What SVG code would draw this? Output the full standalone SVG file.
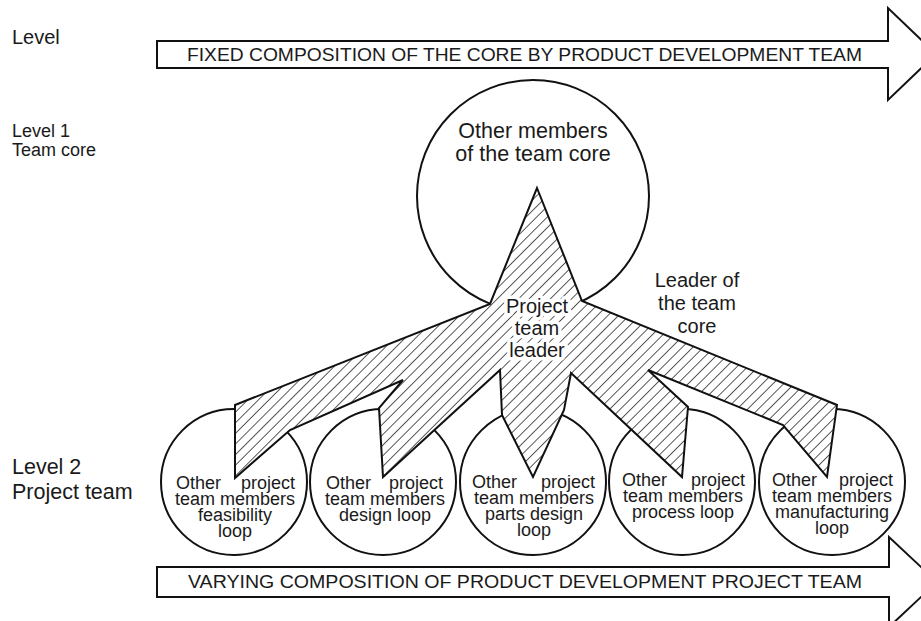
<svg xmlns="http://www.w3.org/2000/svg" width="921" height="621" viewBox="0 0 921 621">
  <style>
    .outline { fill: #fff; stroke: #111; stroke-width: 2; stroke-linejoin: miter; }
    .hatched { fill: url(#hatch); stroke: #111; stroke-width: 2; stroke-linejoin: miter; }
    .t { font-family: "Liberation Sans", Arial, Helvetica, sans-serif; fill: #1a1a1a; }
    .lbl { font-size: 20px; }
    .lbl2 { font-size: 21.5px; }
    .lbl-s { font-size: 18px; }
    .arrow-text { font-size: 17.5px; }
    .core { font-size: 21.5px; text-anchor: middle; }
    .lead { font-size: 20px; text-anchor: middle; }
    .loop { font-size: 18px; text-anchor: middle; }
    .halo { paint-order: stroke; stroke: #fff; stroke-width: 7px; stroke-linejoin: round; }
  </style>
  <defs>
    <pattern id="hatch" patternUnits="userSpaceOnUse" width="7.5" height="10" patternTransform="rotate(45)">
      <rect width="7.5" height="10" fill="#fff"/>
      <line x1="0" y1="0" x2="0" y2="10" stroke="#111" stroke-width="1.4"/>
    </pattern>
  </defs>
  <rect width="921" height="621" fill="#fff"/>

  <!-- level labels -->
  <g id="level-labels">
    <text class="t lbl" x="12" y="44">Level</text>
    <text class="t lbl-s" x="12" y="137">Level 1</text>
    <text class="t lbl-s" x="12" y="156">Team core</text>
    <text class="t lbl2" x="12" y="474">Level 2</text>
    <text class="t lbl2" x="12" y="499">Project team</text>
  </g>

  <!-- timeline arrows -->
  <g id="arrow-fixed">
    <polygon class="outline" points="157,41 888,41 888,8 936,54 888,100 888,68 157,68"/>
    <text class="t arrow-text" x="187" y="61" textLength="675" lengthAdjust="spacingAndGlyphs">FIXED COMPOSITION OF THE CORE BY PRODUCT DEVELOPMENT TEAM</text>
  </g>
  <g id="arrow-varying">
    <polygon class="outline" points="157,567 889,567 889,537 937,582 889,627 889,597 157,597"/>
    <text class="t arrow-text" x="188" y="588" textLength="674" lengthAdjust="spacingAndGlyphs">VARYING COMPOSITION OF PRODUCT DEVELOPMENT PROJECT TEAM</text>
  </g>

  <!-- team core -->
  <g id="team-core">
    <circle class="outline" cx="533" cy="196" r="116"/>
    <text class="t core" x="533" y="138">Other members</text>
    <text class="t core" x="533" y="161">of the team core</text>
  </g>

  <!-- project team loops -->
  <g id="loop-feasibility">
    <circle class="outline" cx="234" cy="482" r="73"/>
  </g>
  <g id="loop-design">
    <circle class="outline" cx="383" cy="482" r="73"/>
  </g>
  <g id="loop-parts-design">
    <circle class="outline" cx="533" cy="482" r="73"/>
  </g>
  <g id="loop-process">
    <circle class="outline" cx="682" cy="482" r="73"/>
  </g>
  <g id="loop-manufacturing">
    <circle class="outline" cx="832" cy="482" r="73"/>
  </g>

  <!-- project team leader: hatched star reaching into every loop -->
  <g id="connectors">
    <polygon class="hatched" points="537,188 582,301 837,405 827,477 783,425 648,370 688,407 682,477 571,373 564,410 533,477 502,415 500,370 383,477 379,408 403,380 290,430 235,478 235,405 490,304"/>
  </g>

  <g id="leader-label">
    <text class="t lead halo" x="537" y="313">Project</text>
    <text class="t lead halo" x="537" y="335">team</text>
    <text class="t lead halo" x="537" y="357">leader</text>
  </g>

  <g id="core-leader-label">
    <text class="t lead" x="697" y="287">Leader of</text>
    <text class="t lead" x="697" y="310">the team</text>
    <text class="t lead" x="697" y="333">core</text>
  </g>

  <!-- loop texts -->
  <g id="loop-texts">
    <text class="t loop" x="176" y="489" style="text-anchor:start">Other</text>
    <text class="t loop" x="295" y="489" style="text-anchor:end">project</text>
    <text class="t loop" x="235" y="505">team members</text>
    <text class="t loop" x="235" y="521">feasibility</text>
    <text class="t loop" x="235" y="537">loop</text>

    <text class="t loop" x="326" y="489" style="text-anchor:start">Other</text>
    <text class="t loop" x="443" y="489" style="text-anchor:end">project</text>
    <text class="t loop" x="385" y="505">team members</text>
    <text class="t loop" x="385" y="521">design loop</text>

    <text class="t loop" x="472" y="488" style="text-anchor:start">Other</text>
    <text class="t loop" x="595" y="488" style="text-anchor:end">project</text>
    <text class="t loop" x="534" y="504">team members</text>
    <text class="t loop" x="534" y="520">parts design</text>
    <text class="t loop" x="534" y="536">loop</text>

    <text class="t loop" x="622" y="486" style="text-anchor:start">Other</text>
    <text class="t loop" x="745" y="486" style="text-anchor:end">project</text>
    <text class="t loop" x="683" y="502">team members</text>
    <text class="t loop" x="683" y="518">process loop</text>

    <text class="t loop" x="772" y="486" style="text-anchor:start">Other</text>
    <text class="t loop" x="893" y="486" style="text-anchor:end">project</text>
    <text class="t loop" x="832" y="502">team members</text>
    <text class="t loop" x="832" y="518">manufacturing</text>
    <text class="t loop" x="832" y="534">loop</text>
  </g>
</svg>
